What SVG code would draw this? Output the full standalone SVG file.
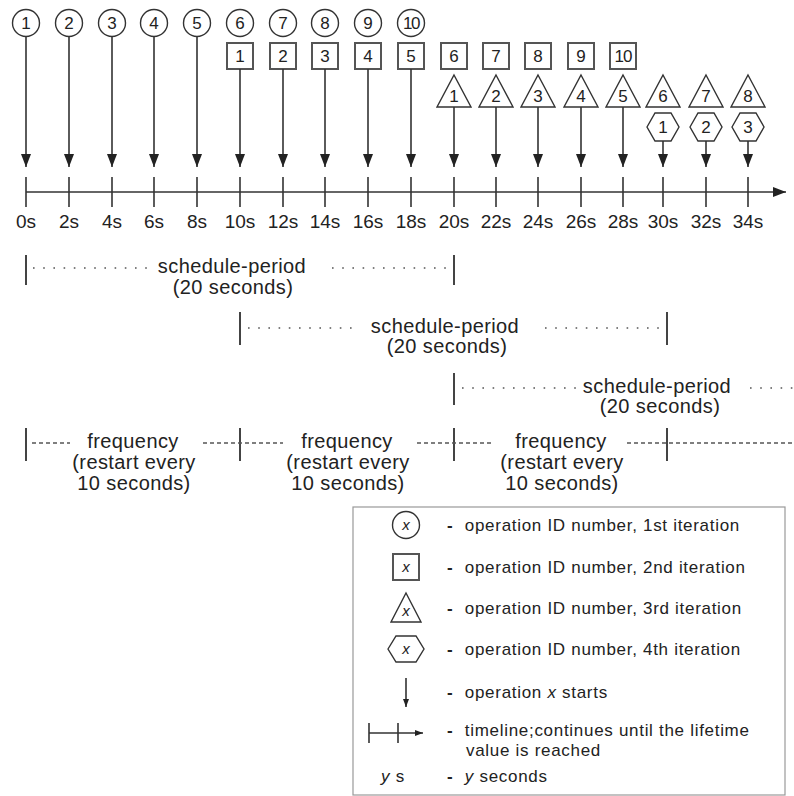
<svg xmlns="http://www.w3.org/2000/svg" width="794" height="796" viewBox="0 0 794 796">
<style>
text{font-family:"Liberation Sans",Arial,sans-serif;fill:#222}
.num{font-size:17px;text-anchor:middle}
.tl{font-size:19px;text-anchor:middle}
.lbl{font-size:20px;text-anchor:middle;letter-spacing:0.4px}
.leg{font-size:17px;letter-spacing:0.7px}
.b{font-weight:bold}
.shape{fill:#fff;stroke:#333;stroke-width:1.4}
.sq{fill:#fff;stroke:#555;stroke-width:2}
.arr{stroke:#333;stroke-width:1.6;fill:none}
.tick{stroke:#333;stroke-width:1.6}
.bar{stroke:#444;stroke-width:2}
.dot{stroke:#555;stroke-width:1.6;stroke-dasharray:1.6 8.6;fill:none}
.dash{stroke:#555;stroke-width:1.5;stroke-dasharray:4 3;fill:none}
</style>
<defs>
<marker id="ah" markerUnits="userSpaceOnUse" markerWidth="13" markerHeight="10" refX="13" refY="5" orient="auto" viewBox="0 0 13 10">
<path d="M0,0 L13,5 L0,10 z" fill="#222"/>
</marker>
<marker id="ahs" markerUnits="userSpaceOnUse" markerWidth="8" markerHeight="6" refX="8" refY="3" orient="auto" viewBox="0 0 8 6">
<path d="M0,0 L8,3 L0,6 z" fill="#222"/>
</marker>
</defs>

<!-- first iteration circles -->
<g id="c1"><circle class="shape" cx="26" cy="23" r="13.5"/><text class="num" x="26" y="29">1</text></g>
<g id="c2"><circle class="shape" cx="69" cy="23" r="13.5"/><text class="num" x="69" y="29">2</text></g>
<g id="c3"><circle class="shape" cx="112" cy="23" r="13.5"/><text class="num" x="112" y="29">3</text></g>
<g id="c4"><circle class="shape" cx="154" cy="23" r="13.5"/><text class="num" x="154" y="29">4</text></g>
<g id="c5"><circle class="shape" cx="197" cy="23" r="13.5"/><text class="num" x="197" y="29">5</text></g>
<g id="c6"><circle class="shape" cx="240" cy="23" r="13.5"/><text class="num" x="240" y="29">6</text></g>
<g id="c7"><circle class="shape" cx="283" cy="23" r="13.5"/><text class="num" x="283" y="29">7</text></g>
<g id="c8"><circle class="shape" cx="325" cy="23" r="13.5"/><text class="num" x="325" y="29">8</text></g>
<g id="c9"><circle class="shape" cx="368" cy="23" r="13.5"/><text class="num" x="368" y="29">9</text></g>
<g id="c10"><circle class="shape" cx="411" cy="23" r="13.5"/><text class="num" x="411" y="29" letter-spacing="-1.5">10</text></g>

<!-- second iteration squares -->
<g id="s1"><rect class="sq" x="227" y="43" width="26" height="26"/><text class="num" x="240" y="62">1</text></g>
<g id="s2"><rect class="sq" x="270" y="43" width="26" height="26"/><text class="num" x="283" y="62">2</text></g>
<g id="s3"><rect class="sq" x="312" y="43" width="26" height="26"/><text class="num" x="325" y="62">3</text></g>
<g id="s4"><rect class="sq" x="355" y="43" width="26" height="26"/><text class="num" x="368" y="62">4</text></g>
<g id="s5"><rect class="sq" x="398" y="43" width="26" height="26"/><text class="num" x="411" y="62">5</text></g>
<g id="s6"><rect class="sq" x="441" y="43" width="26" height="26"/><text class="num" x="454" y="62">6</text></g>
<g id="s7"><rect class="sq" x="483" y="43" width="26" height="26"/><text class="num" x="496" y="62">7</text></g>
<g id="s8"><rect class="sq" x="525" y="43" width="26" height="26"/><text class="num" x="538" y="62">8</text></g>
<g id="s9"><rect class="sq" x="568" y="43" width="26" height="26"/><text class="num" x="581" y="62">9</text></g>
<g id="s10"><rect class="sq" x="610" y="43" width="26" height="26"/><text class="num" x="623" y="62" letter-spacing="-1">10</text></g>

<!-- third iteration triangles -->
<g id="t1"><path class="shape" d="M454,75 L471,107 L437,107 Z"/><text class="num" x="454" y="102">1</text></g>
<g id="t2"><path class="shape" d="M496,75 L513,107 L479,107 Z"/><text class="num" x="496" y="102">2</text></g>
<g id="t3"><path class="shape" d="M538,75 L555,107 L521,107 Z"/><text class="num" x="538" y="102">3</text></g>
<g id="t4"><path class="shape" d="M581,75 L598,107 L564,107 Z"/><text class="num" x="581" y="102">4</text></g>
<g id="t5"><path class="shape" d="M623,75 L640,107 L606,107 Z"/><text class="num" x="623" y="102">5</text></g>
<g id="t6"><path class="shape" d="M663,75 L680,107 L646,107 Z"/><text class="num" x="663" y="102">6</text></g>
<g id="t7"><path class="shape" d="M706,75 L723,107 L689,107 Z"/><text class="num" x="706" y="102">7</text></g>
<g id="t8"><path class="shape" d="M748,75 L765,107 L731,107 Z"/><text class="num" x="748" y="102">8</text></g>

<!-- fourth iteration hexagons -->
<g id="h1"><path class="shape" d="M647,127 L655,113 L671,113 L679,127 L671,141 L655,141 Z"/><text class="num" x="663" y="133">1</text></g>
<g id="h2"><path class="shape" d="M690,127 L698,113 L714,113 L722,127 L714,141 L698,141 Z"/><text class="num" x="706" y="133">2</text></g>
<g id="h3"><path class="shape" d="M732,127 L740,113 L756,113 L764,127 L756,141 L740,141 Z"/><text class="num" x="748" y="133">3</text></g>

<!-- connectors: operation start arrows -->
<g id="connectors">
<line class="arr" x1="26" y1="37" x2="26" y2="167" marker-end="url(#ah)"/>
<line class="arr" x1="69" y1="37" x2="69" y2="167" marker-end="url(#ah)"/>
<line class="arr" x1="112" y1="37" x2="112" y2="167" marker-end="url(#ah)"/>
<line class="arr" x1="154" y1="37" x2="154" y2="167" marker-end="url(#ah)"/>
<line class="arr" x1="197" y1="37" x2="197" y2="167" marker-end="url(#ah)"/>
<line class="arr" x1="240" y1="69" x2="240" y2="167" marker-end="url(#ah)"/>
<line class="arr" x1="283" y1="69" x2="283" y2="167" marker-end="url(#ah)"/>
<line class="arr" x1="325" y1="69" x2="325" y2="167" marker-end="url(#ah)"/>
<line class="arr" x1="368" y1="69" x2="368" y2="167" marker-end="url(#ah)"/>
<line class="arr" x1="411" y1="69" x2="411" y2="167" marker-end="url(#ah)"/>
<line class="arr" x1="454" y1="107" x2="454" y2="167" marker-end="url(#ah)"/>
<line class="arr" x1="496" y1="107" x2="496" y2="167" marker-end="url(#ah)"/>
<line class="arr" x1="538" y1="107" x2="538" y2="167" marker-end="url(#ah)"/>
<line class="arr" x1="581" y1="107" x2="581" y2="167" marker-end="url(#ah)"/>
<line class="arr" x1="623" y1="107" x2="623" y2="167" marker-end="url(#ah)"/>
<line class="arr" x1="663" y1="141" x2="663" y2="167" marker-end="url(#ah)"/>
<line class="arr" x1="706" y1="141" x2="706" y2="167" marker-end="url(#ah)"/>
<line class="arr" x1="748" y1="141" x2="748" y2="167" marker-end="url(#ah)"/>
</g>

<!-- timeline -->
<g id="timeline">
<line class="tick" x1="26" y1="192" x2="786" y2="192" marker-end="url(#ah)"/>
<g class="tick">
<line x1="26" y1="177" x2="26" y2="207"/><line x1="69" y1="177" x2="69" y2="207"/>
<line x1="112" y1="177" x2="112" y2="207"/><line x1="154" y1="177" x2="154" y2="207"/>
<line x1="197" y1="177" x2="197" y2="207"/><line x1="240" y1="177" x2="240" y2="207"/>
<line x1="283" y1="177" x2="283" y2="207"/><line x1="325" y1="177" x2="325" y2="207"/>
<line x1="368" y1="177" x2="368" y2="207"/><line x1="411" y1="177" x2="411" y2="207"/>
<line x1="454" y1="177" x2="454" y2="207"/><line x1="496" y1="177" x2="496" y2="207"/>
<line x1="538" y1="177" x2="538" y2="207"/><line x1="581" y1="177" x2="581" y2="207"/>
<line x1="623" y1="177" x2="623" y2="207"/><line x1="663" y1="177" x2="663" y2="207"/>
<line x1="706" y1="177" x2="706" y2="207"/><line x1="748" y1="177" x2="748" y2="207"/>
</g>
<text class="tl" x="26" y="228">0s</text><text class="tl" x="69" y="228">2s</text>
<text class="tl" x="112" y="228">4s</text><text class="tl" x="154" y="228">6s</text>
<text class="tl" x="197" y="228">8s</text><text class="tl" x="240" y="228">10s</text>
<text class="tl" x="283" y="228">12s</text><text class="tl" x="325" y="228">14s</text>
<text class="tl" x="368" y="228">16s</text><text class="tl" x="411" y="228">18s</text>
<text class="tl" x="454" y="228">20s</text><text class="tl" x="496" y="228">22s</text>
<text class="tl" x="538" y="228">24s</text><text class="tl" x="581" y="228">26s</text>
<text class="tl" x="623" y="228">28s</text><text class="tl" x="663" y="228">30s</text>
<text class="tl" x="706" y="228">32s</text><text class="tl" x="748" y="228">34s</text>
</g>

<!-- schedule periods -->
<g id="period1">
<line class="bar" x1="26" y1="255" x2="26" y2="285"/>
<line class="bar" x1="454" y1="255" x2="454" y2="285"/>
<line class="dot" x1="33" y1="268" x2="148" y2="268"/>
<line class="dot" x1="332" y1="268" x2="448" y2="268"/>
<text class="lbl" x="232" y="273">schedule-period</text>
<text class="lbl" x="233" y="294">(20 seconds)</text>
</g>
<g id="period2">
<line class="bar" x1="240" y1="312" x2="240" y2="345"/>
<line class="bar" x1="667" y1="312" x2="667" y2="345"/>
<line class="dot" x1="248" y1="328" x2="358" y2="328"/>
<line class="dot" x1="545" y1="328" x2="662" y2="328"/>
<text class="lbl" x="445" y="333">schedule-period</text>
<text class="lbl" x="447" y="353">(20 seconds)</text>
</g>
<g id="period3">
<line class="bar" x1="454" y1="373" x2="454" y2="405"/>
<line class="dot" x1="462" y1="388" x2="576" y2="388"/>
<line class="dot" x1="750" y1="388" x2="794" y2="388"/>
<text class="lbl" x="657" y="393">schedule-period</text>
<text class="lbl" x="660" y="413">(20 seconds)</text>
</g>

<!-- frequency -->
<g id="frequency">
<line class="bar" x1="26" y1="428" x2="26" y2="461"/>
<line class="bar" x1="240" y1="428" x2="240" y2="461"/>
<line class="bar" x1="454" y1="428" x2="454" y2="461"/>
<line class="bar" x1="667" y1="428" x2="667" y2="461"/>
<line class="dash" x1="32" y1="443" x2="70" y2="443"/>
<line class="dash" x1="203" y1="443" x2="283" y2="443"/>
<line class="dash" x1="417" y1="443" x2="491" y2="443"/>
<line class="dash" x1="627" y1="443" x2="794" y2="443"/>
<text class="lbl" x="133" y="448">frequency</text>
<text class="lbl" x="134" y="469">(restart every</text>
<text class="lbl" x="134" y="490">10 seconds)</text>
<text class="lbl" x="347" y="448">frequency</text>
<text class="lbl" x="348" y="469">(restart every</text>
<text class="lbl" x="348" y="490">10 seconds)</text>
<text class="lbl" x="561" y="448">frequency</text>
<text class="lbl" x="562" y="469">(restart every</text>
<text class="lbl" x="562" y="490">10 seconds)</text>
</g>

<!-- legend -->
<g id="legend">
<rect x="353" y="507" width="432" height="288" fill="#fff" stroke="#999" stroke-width="1.2"/>
<circle class="shape" cx="406" cy="525" r="13.5"/>
<text x="406" y="530" text-anchor="middle" font-style="italic" font-size="15">x</text>
<rect class="sq" x="393" y="554" width="26" height="26"/>
<text x="406" y="572" text-anchor="middle" font-style="italic" font-size="15">x</text>
<path class="shape" d="M406,593 L421,622 L391,622 Z"/>
<text x="406" y="616" text-anchor="middle" font-style="italic" font-size="15">x</text>
<path class="shape" d="M388,649 L396,636 L416,636 L424,649 L416,662 L396,662 Z"/>
<text x="406" y="654" text-anchor="middle" font-style="italic" font-size="15">x</text>
<line class="arr" x1="406" y1="678" x2="406" y2="707" marker-end="url(#ahs)"/>
<line class="tick" x1="369" y1="723" x2="369" y2="743"/>
<line class="tick" x1="398" y1="723" x2="398" y2="743"/>
<line class="tick" x1="369" y1="733" x2="423" y2="733" marker-end="url(#ahs)"/>
<text class="leg" x="393" y="782" text-anchor="middle"><tspan font-style="italic">y</tspan> s</text>

<text class="leg" x="447" y="531"><tspan class="b">-</tspan> <tspan dx="6">operation ID number, 1st iteration</tspan></text>
<text class="leg" x="447" y="573"><tspan class="b">-</tspan> <tspan dx="6">operation ID number, 2nd iteration</tspan></text>
<text class="leg" x="447" y="614"><tspan class="b">-</tspan> <tspan dx="6">operation ID number, 3rd iteration</tspan></text>
<text class="leg" x="447" y="655"><tspan class="b">-</tspan> <tspan dx="6">operation ID number, 4th iteration</tspan></text>
<text class="leg" x="447" y="698"><tspan class="b">-</tspan> <tspan dx="6">operation </tspan><tspan font-style="italic">x</tspan><tspan> starts</tspan></text>
<text class="leg" x="447" y="736"><tspan class="b">-</tspan> <tspan dx="6">timeline;continues until the lifetime</tspan></text>
<text class="leg" x="466" y="756">value is reached</text>
<text class="leg" x="447" y="782"><tspan class="b">-</tspan> <tspan dx="6" font-style="italic">y</tspan><tspan> seconds</tspan></text>
</g>
</svg>
